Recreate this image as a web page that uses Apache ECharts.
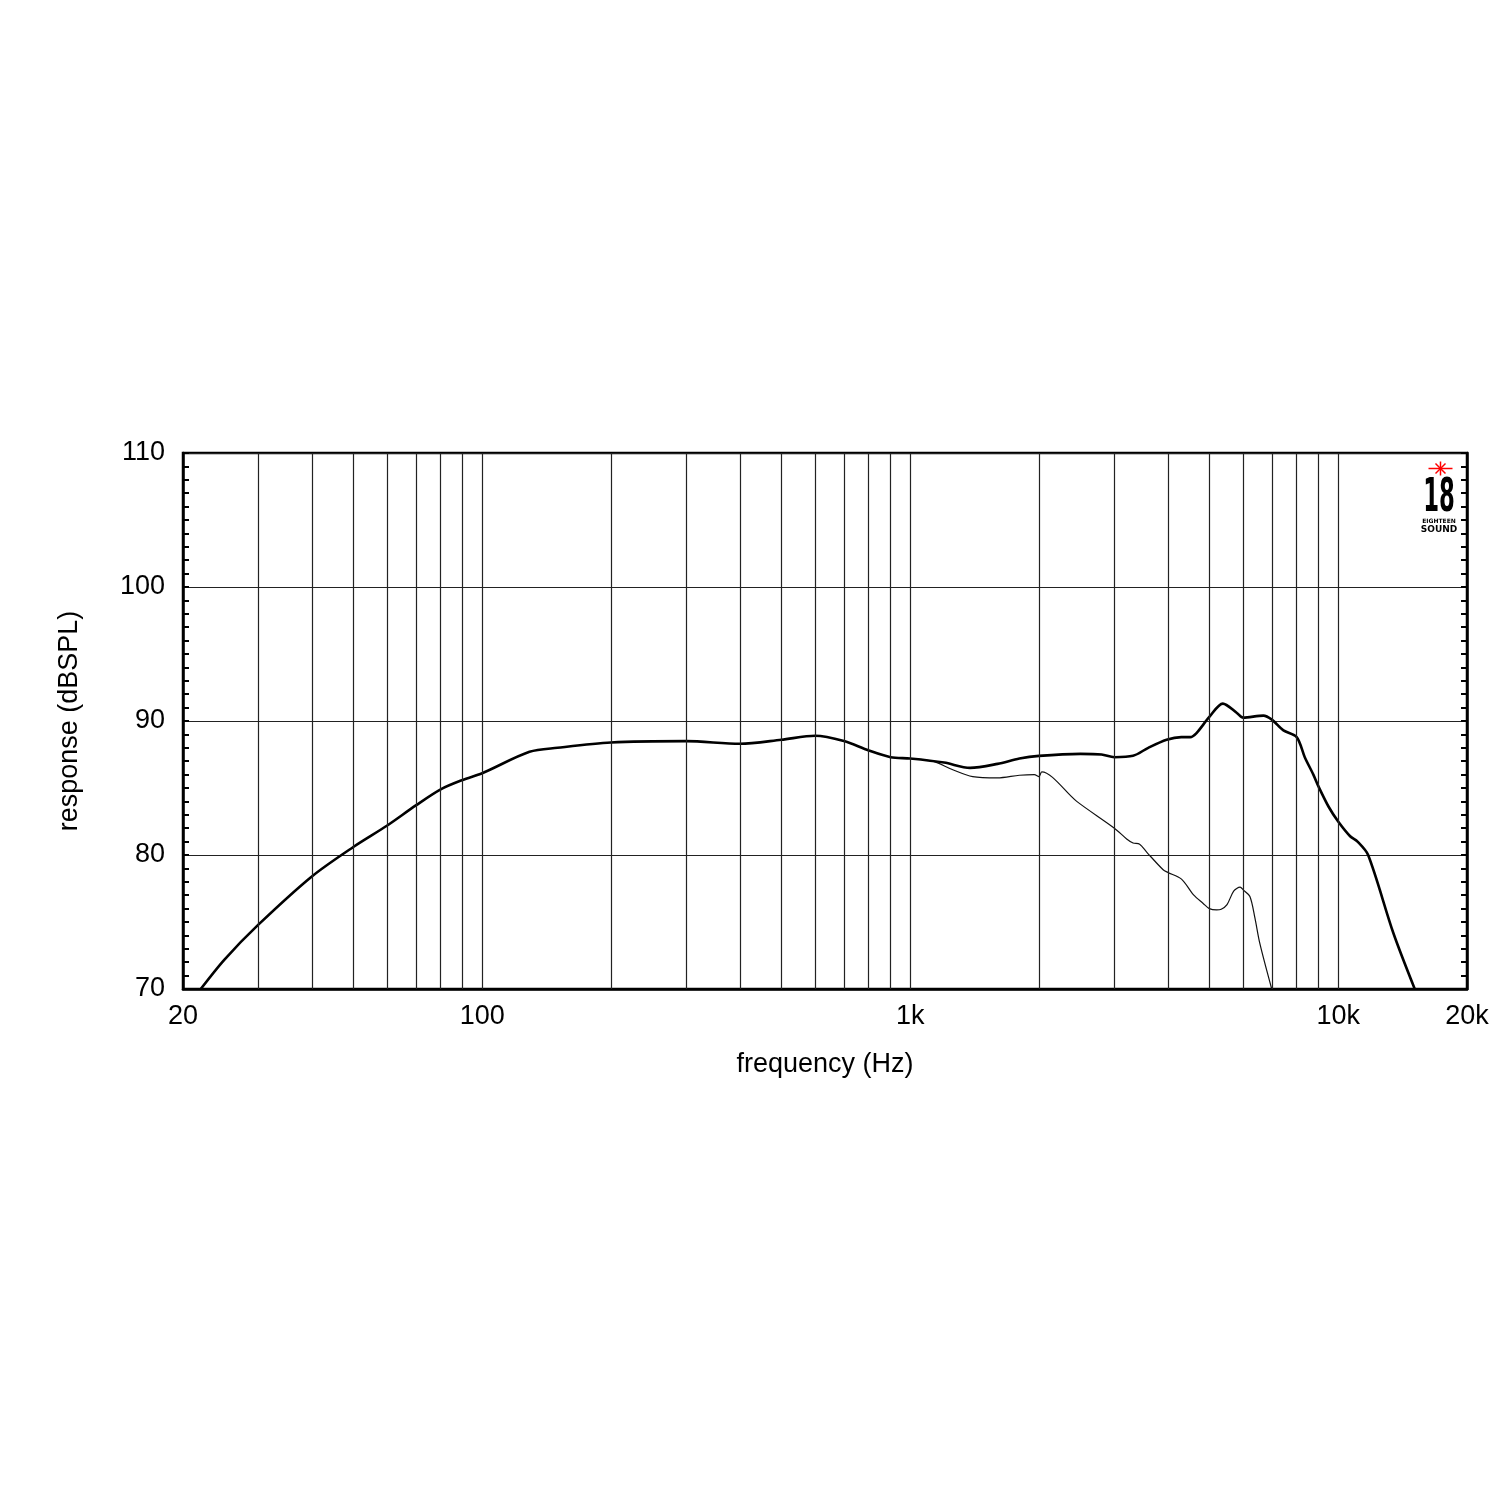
<!DOCTYPE html>
<html>
<head>
<meta charset="utf-8">
<script src="https://cdn.jsdelivr.net/npm/echarts@6/dist/echarts.min.js"></script>
<style>html,body{margin:0;padding:0;background:#fff;}#c{width:1500px;height:1500px;}</style>
</head>
<body>
<div id="c"></div>
<script>
// Frequency response (on-axis, thick) and off-axis (thin)
var mainFreq = [22, 25, 30, 40, 50, 60, 70, 80, 90, 100, 129, 150, 200, 300, 400, 500, 600, 700, 800, 900, 1000, 1200, 1380, 1600, 1800, 2000, 2500, 2800, 3000, 3317, 3600, 3973, 4300, 4510, 4667, 5000, 5376, 5800, 6000, 6687, 7000, 7450, 8000, 8356, 8750, 9000, 9500, 10000, 10666, 11100, 11750, 13450, 15100];
var mainDb   = [70.0, 72.2, 74.8, 78.4, 80.6, 82.2, 83.7, 84.9, 85.6, 86.1, 87.7, 88.0, 88.4, 88.5, 88.3, 88.6, 88.9, 88.5, 87.8, 87.3, 87.2, 86.9, 86.5, 86.8, 87.2, 87.4, 87.55, 87.5, 87.3, 87.4, 88.0, 88.6, 88.8, 88.8, 89.1, 90.3, 91.3, 90.6, 90.25, 90.4, 90.1, 89.3, 88.8, 87.3, 86.0, 85.1, 83.6, 82.5, 81.4, 81.0, 80.0, 74.2, 70.0];

var offFreq = [1000, 1130, 1250, 1400, 1600, 1800, 1950, 2000, 2030, 2450, 3000, 3205, 3317, 3437, 3573, 3900, 4000, 4305, 4600, 4831, 5000, 5200, 5330, 5500, 5700, 5902, 6000, 6220, 6390, 6561, 6995];
var offDb   = [87.2, 87.0, 86.4, 85.85, 85.75, 85.95, 86.0, 85.85, 86.2, 84.0, 82.0, 81.2, 80.9, 80.8, 80.2, 78.9, 78.7, 78.2, 77.0, 76.4, 76.0, 75.9, 75.95, 76.3, 77.3, 77.6, 77.4, 76.9, 75.3, 73.4, 70.0];

var gridFreqs = [30, 40, 50, 60, 70, 80, 90, 100, 200, 300, 400, 500, 600, 700, 800, 900, 1000, 2000, 3000, 4000, 5000, 6000, 7000, 8000, 9000, 10000];
var yMin = 70, yMax = 110, yStep = 10;

function pairs(xs, ys) { return xs.map(function (x, i) { return [x, ys[i]]; }); }
function fmtFreq(v) {
  var r = Math.round(v);
  return r >= 1000 ? (r / 1000) + 'k' : String(r);
}

var FONT = 'Liberation Sans';
var chart = echarts.init(document.getElementById('c'), null, { renderer: 'canvas' });

function yAxisDef(pos) {
  return {
    type: 'value', position: pos, min: yMin, max: yMax, interval: yStep,
    axisLine: { show: true, lineStyle: { color: '#000', width: 2.5 } },
    axisTick: { show: true, inside: true, length: 6, lineStyle: { color: '#000', width: 2 } },
    minorTick: { show: true, splitNumber: 10, length: 6, lineStyle: { color: '#000', width: 2 } },
    splitLine: { show: pos === 'left', lineStyle: { color: '#222', width: 1.2 } },
    axisLabel: { show: pos === 'left', color: '#000', fontSize: 27, fontFamily: FONT, margin: 18 },
    name: pos === 'left' ? 'response (dBSPL)' : '',
    nameLocation: 'middle', nameGap: 100,
    nameTextStyle: { color: '#000', fontSize: 27, fontFamily: FONT }
  };
}

var option = {
  backgroundColor: '#fff',
  animation: false,
  grid: { left: 183, right: 33, top: 453, bottom: 511, show: true, borderColor: '#000', borderWidth: 2.5, backgroundColor: 'transparent' },
  xAxis: [{
    type: 'log', logBase: 10, min: 20, max: 20000,
    axisLine: { show: true, lineStyle: { color: '#000', width: 2.5 } },
    axisTick: { show: false },
    splitLine: { show: false },
    axisLabel: { color: '#000', fontSize: 27, fontFamily: FONT, margin: 14, formatter: fmtFreq, showMinLabel: true, showMaxLabel: true },
    name: 'frequency (Hz)', nameLocation: 'middle', nameGap: 62,
    nameTextStyle: { color: '#000', fontSize: 27, fontFamily: FONT, verticalAlign: 'top' }
  }],
  yAxis: [yAxisDef('left'), yAxisDef('right')],
  series: [
    {
      type: 'line', name: 'grid', data: [], silent: true,
      markLine: {
        silent: true, symbol: ['none', 'none'], label: { show: false },
        lineStyle: { color: '#222', width: 1.2, type: 'solid' },
        data: gridFreqs.map(function (f) { return { xAxis: f }; })
      }
    },
    {
      type: 'line', name: 'off', data: pairs(offFreq, offDb), showSymbol: false, smooth: 0.3,
      lineStyle: { color: '#111', width: 1.2 }, z: 3
    },
    {
      type: 'line', name: 'on', data: pairs(mainFreq, mainDb), showSymbol: false, smooth: 0.3,
      lineStyle: { color: '#000', width: 2.6 }, z: 4
    }
  ],
  graphic: [
    {
      type: 'group', left: 1426, top: 459, children: [
        { type: 'line', shape: { x1: 0, y1: 7, x2: 24, y2: 7 }, style: { stroke: '#ff0000', lineWidth: 1.5 } },
        { type: 'line', shape: { x1: 12, y1: 0, x2: 12, y2: 14 }, style: { stroke: '#ff0000', lineWidth: 1.5 } },
        { type: 'line', shape: { x1: 7, y1: 2, x2: 17, y2: 12 }, style: { stroke: '#ff0000', lineWidth: 1.5 } },
        { type: 'line', shape: { x1: 17, y1: 2, x2: 7, y2: 12 }, style: { stroke: '#ff0000', lineWidth: 1.5 } }
      ]
    },
    {
      type: 'text', x: 1439, y: 476, scaleX: 0.55, scaleY: 1,
      style: { text: '18', fill: '#000', fontFamily: 'DejaVu Sans Condensed', fontWeight: 'bold', fontSize: 46, textAlign: 'center', textVerticalAlign: 'top' }
    },
    {
      type: 'text', x: 1439, y: 518,
      style: { text: 'EIGHTEEN', fill: '#000', fontFamily: 'DejaVu Sans', fontWeight: 'bold', fontSize: 6, textAlign: 'center', textVerticalAlign: 'top' }
    },
    {
      type: 'text', x: 1439, y: 525,
      style: { text: 'SOUND', fill: '#000', fontFamily: 'DejaVu Sans', fontWeight: 'bold', fontSize: 9, textAlign: 'center', textVerticalAlign: 'top' }
    }
  ]
};
chart.setOption(option);
</script>
</body>
</html>
